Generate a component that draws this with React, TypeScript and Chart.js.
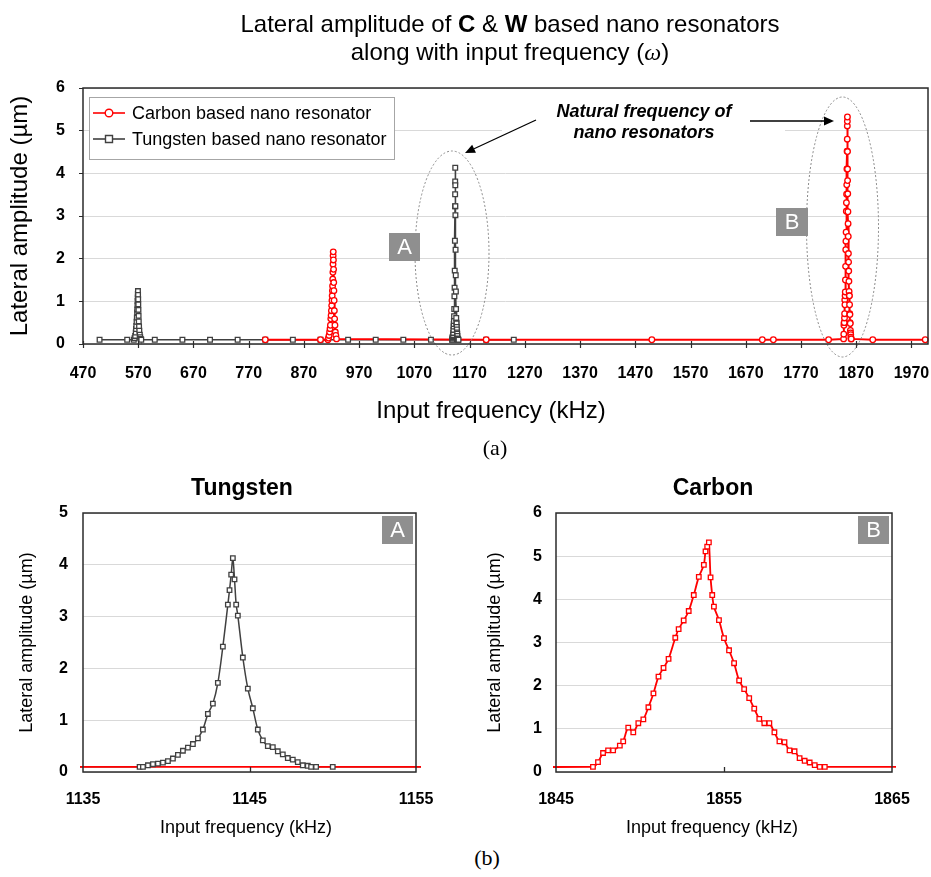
import React, { useEffect, useRef } from "react";
import { Chart, registerables } from "chart.js";

Chart.register(...registerables);

const FONT = "'Liberation Sans', Arial, Helvetica, sans-serif";
const SERIF = "'Liberation Serif', 'Times New Roman', serif";
const RED = "#ff0000";
const DARK = "#404040";
const GRID = "#d9d9d9";
const FRAME = "#2b2b2b";
const BOXGRAY = "#8f8f8f";

// ---------- axis ticks ----------
const topXTicks = [470, 570, 670, 770, 870, 970, 1070, 1170, 1270, 1370, 1470, 1570, 1670, 1770, 1870, 1970];
const topYTicks = [0, 1, 2, 3, 4, 5, 6];
const tungstenXTicks = [1135, 1145, 1155];
const tungstenYTicks = [0, 1, 2, 3, 4, 5];
const carbonXTicks = [1845, 1855, 1865];
const carbonYTicks = [0, 1, 2, 3, 4, 5, 6];

// ---------- Tungsten (W) series ----------
const tungstenBaseFreq = [500, 550, 600, 650, 700, 750, 800, 850, 900, 950, 1000, 1050, 1100, 1200, 1250];
const tungstenBaseAmp = [0.1, 0.1, 0.1, 0.1, 0.1, 0.1, 0.1, 0.1, 0.1, 0.1, 0.1, 0.1, 0.1, 0.1, 0.1];

const tungstenPeak1Freq = [562.0, 563.5, 564.5, 565.5, 566.0, 566.5, 567.0, 567.5, 568.0, 568.3, 568.6, 568.9, 569.1, 569.3, 569.5, 569.7, 569.9, 570.1, 570.4, 570.7, 571.0, 571.5, 572.0, 572.8, 573.6, 574.5, 575.5];
const tungstenPeak1Amp = [0.10, 0.14, 0.19, 0.27, 0.35, 0.42, 0.52, 0.62, 0.74, 0.81, 0.91, 1.01, 1.09, 1.17, 1.24, 1.15, 1.05, 0.93, 0.80, 0.66, 0.53, 0.41, 0.31, 0.22, 0.16, 0.12, 0.10];

const tungstenPeakAFreq = [1138.4, 1138.6, 1138.9, 1139.2, 1139.5, 1139.8, 1140.1, 1140.4, 1140.7, 1141.0, 1141.3, 1141.6, 1141.9, 1142.2, 1142.5, 1142.8, 1143.1, 1143.4, 1143.7, 1143.8, 1143.9, 1144.0, 1144.1, 1144.2, 1144.3, 1144.6, 1144.9, 1145.2, 1145.5, 1145.8, 1146.1, 1146.4, 1146.7, 1147.0, 1147.3, 1147.6, 1147.9, 1148.2, 1148.5, 1148.7, 1149.0, 1150.0];
const tungstenPeakAAmp = [0.10, 0.10, 0.13, 0.15, 0.16, 0.18, 0.21, 0.26, 0.33, 0.41, 0.47, 0.54, 0.65, 0.82, 1.12, 1.32, 1.72, 2.42, 3.23, 3.51, 3.81, 4.13, 3.72, 3.23, 3.02, 2.21, 1.61, 1.23, 0.82, 0.61, 0.50, 0.48, 0.40, 0.34, 0.27, 0.24, 0.19, 0.13, 0.12, 0.10, 0.10, 0.10];

// ---------- Carbon (C) series ----------
const carbonBaseFreq = [800, 900, 1200, 1500, 1700, 1720, 1820, 1900, 1995];
const carbonBaseAmp = [0.1, 0.1, 0.1, 0.1, 0.1, 0.1, 0.1, 0.1, 0.1];

const carbonPeak1Freq = [913.5, 914.5, 915.5, 916.5, 917.3, 918.0, 918.7, 919.3, 919.8, 920.3, 920.8, 921.2, 921.6, 921.9, 922.2, 922.5, 922.7, 922.9, 923.1, 923.4, 923.7, 924.0, 924.3, 924.7, 925.1, 925.6, 926.2, 926.9, 927.8, 929.0];
const carbonPeak1Amp = [0.10, 0.14, 0.20, 0.28, 0.36, 0.44, 0.59, 0.67, 0.78, 0.90, 1.02, 1.13, 1.25, 1.36, 1.52, 1.68, 1.87, 2.07, 2.16, 1.97, 1.75, 1.44, 1.25, 1.02, 0.78, 0.59, 0.44, 0.28, 0.20, 0.12];

const carbonPeakBFreq = [1847.2, 1847.5, 1847.8, 1848.1, 1848.4, 1848.8, 1849.0, 1849.3, 1849.6, 1849.9, 1850.2, 1850.5, 1850.8, 1851.1, 1851.4, 1851.7, 1852.1, 1852.3, 1852.6, 1852.9, 1853.2, 1853.5, 1853.8, 1853.9, 1854.0, 1854.1, 1854.2, 1854.3, 1854.4, 1854.7, 1855.0, 1855.3, 1855.6, 1855.9, 1856.2, 1856.5, 1856.8, 1857.1, 1857.4, 1857.7, 1858.0, 1858.3, 1858.6, 1858.9, 1859.2, 1859.5, 1859.8, 1860.1, 1860.4, 1860.7, 1861.0];
const carbonPeakBAmp = [0.12, 0.23, 0.44, 0.50, 0.50, 0.61, 0.71, 1.03, 0.92, 1.13, 1.22, 1.50, 1.82, 2.21, 2.41, 2.62, 3.11, 3.31, 3.51, 3.73, 4.10, 4.52, 4.80, 5.11, 5.22, 5.32, 4.51, 4.10, 3.83, 3.52, 3.10, 2.82, 2.52, 2.12, 1.92, 1.71, 1.47, 1.23, 1.13, 1.13, 0.92, 0.71, 0.69, 0.50, 0.48, 0.32, 0.26, 0.22, 0.16, 0.12, 0.12];

const CARBON_LABEL = "Carbon based nano resonator";
const TUNGSTEN_LABEL = "Tungsten based nano resonator";

type Pt = { x: number; y: number };

function combine(parts: [number[], number[]][]): Pt[] {
  const pts: Pt[] = [];
  parts.forEach(([xs, ys]) => xs.forEach((x, i) => pts.push({ x, y: ys[i] })));
  pts.sort((a, b) => a.x - b.x);
  return pts;
}

const tungstenData = () =>
  combine([
    [tungstenBaseFreq, tungstenBaseAmp],
    [tungstenPeak1Freq, tungstenPeak1Amp],
    [tungstenPeakAFreq, tungstenPeakAAmp],
  ]);
const carbonData = () =>
  combine([
    [carbonBaseFreq, carbonBaseAmp],
    [carbonPeak1Freq, carbonPeak1Amp],
    [carbonPeakBFreq, carbonPeakBAmp],
  ]);

function makeDatasets(o: { tension: number; carbonStyle: string; carbonRadius: number; rectRadius: number; clip: any; redWidth: number; darkWidth: number }) {
  const w = tungstenData();
  const c = carbonData();
  return [
    { label: TUNGSTEN_LABEL, data: w, showLine: true, borderColor: DARK, borderWidth: o.darkWidth, pointRadius: 0, tension: o.tension, order: 4, clip: o.clip },
    { label: CARBON_LABEL, data: c, showLine: true, borderColor: RED, borderWidth: o.redWidth, pointRadius: 0, tension: o.tension, order: 3, clip: o.clip },
    { label: TUNGSTEN_LABEL + " markers", data: w, showLine: false, pointStyle: "rect", pointRadius: o.rectRadius, pointBorderColor: DARK, pointBackgroundColor: "#ffffff", pointBorderWidth: 1.3, order: 2, clip: o.clip },
    { label: CARBON_LABEL + " markers", data: c, showLine: false, pointStyle: o.carbonStyle, pointRadius: o.carbonRadius, pointBorderColor: RED, pointBackgroundColor: "#ffffff", pointBorderWidth: 1.3, order: 1, clip: o.clip },
  ];
}

function arrow(ctx: CanvasRenderingContext2D, x1: number, y1: number, x2: number, y2: number) {
  const a = Math.atan2(y2 - y1, x2 - x1);
  const L = 10, W = 4.5;
  const bx = x2 - L * Math.cos(a), by = y2 - L * Math.sin(a);
  ctx.beginPath();
  ctx.moveTo(x1, y1);
  ctx.lineTo(bx, by);
  ctx.stroke();
  ctx.beginPath();
  ctx.moveTo(x2, y2);
  ctx.lineTo(bx + W * Math.sin(a), by - W * Math.cos(a));
  ctx.lineTo(bx - W * Math.sin(a), by + W * Math.cos(a));
  ctx.closePath();
  ctx.fill();
}

function letterBox(ctx: CanvasRenderingContext2D, x: number, y: number, w: number, h: number, t: string) {
  ctx.fillStyle = BOXGRAY;
  ctx.fillRect(x, y, w, h);
  ctx.fillStyle = "#ffffff";
  ctx.font = `22px ${FONT}`;
  ctx.textAlign = "center";
  ctx.textBaseline = "middle";
  ctx.fillText(t, x + w / 2, y + h / 2 + 1);
}

function frame(ctx: CanvasRenderingContext2D, a: any) {
  ctx.strokeStyle = FRAME;
  ctx.lineWidth = 1.5;
  ctx.setLineDash([]);
  ctx.strokeRect(a.left, a.top, a.right - a.left, a.bottom - a.top);
}

const topDecor = {
  id: "topDecor",
  afterDatasetsDraw(chart: any) {
    const { ctx, chartArea: a, scales } = chart;
    ctx.save();
    // x tick marks crossing the axis
    ctx.strokeStyle = FRAME;
    ctx.lineWidth = 1.2;
    topXTicks.forEach((v) => {
      const px = Math.round(scales.x.getPixelForValue(v)) + 0.5;
      ctx.beginPath();
      ctx.moveTo(px, a.bottom - 3);
      ctx.lineTo(px, a.bottom + 4);
      ctx.stroke();
    });
    // white area behind annotation text
    ctx.fillStyle = "#ffffff";
    ctx.fillRect(502, 96, 283, 48);
    // dotted ellipses
    ctx.strokeStyle = "#8a8a8a";
    ctx.lineWidth = 1;
    ctx.setLineDash([2, 2]);
    ctx.beginPath();
    ctx.ellipse(452, 253, 37, 102, 0, 0, Math.PI * 2);
    ctx.stroke();
    ctx.beginPath();
    ctx.ellipse(842.5, 227, 36, 130, 0, 0, Math.PI * 2);
    ctx.stroke();
    ctx.setLineDash([]);
    // labels A, B
    letterBox(ctx, 389, 233, 31, 28, "A");
    letterBox(ctx, 776, 208, 32, 28, "B");
    // annotation text
    ctx.fillStyle = "#000000";
    ctx.font = `italic bold 18px ${FONT}`;
    ctx.textAlign = "center";
    ctx.textBaseline = "middle";
    ctx.fillText("Natural frequency of", 644, 112);
    ctx.fillText("nano resonators", 644, 133);
    // arrows
    ctx.strokeStyle = "#000000";
    ctx.fillStyle = "#000000";
    ctx.lineWidth = 1.3;
    arrow(ctx, 536, 120, 465, 153);
    arrow(ctx, 750, 121, 834, 121);
    // legend
    const lx = a.left + 6, ly = a.top + 9, lw = 305, lh = 62;
    ctx.fillStyle = "#ffffff";
    ctx.fillRect(lx, ly, lw, lh);
    ctx.strokeStyle = "#a6a6a6";
    ctx.lineWidth = 1;
    ctx.strokeRect(lx + 0.5, ly + 0.5, lw, lh);
    const rows = [
      { label: CARBON_LABEL, color: RED, y: ly + 16, shape: "circle" },
      { label: TUNGSTEN_LABEL, color: DARK, y: ly + 42, shape: "rect" },
    ];
    rows.forEach((r) => {
      ctx.strokeStyle = r.color;
      ctx.lineWidth = 1.6;
      ctx.beginPath();
      ctx.moveTo(lx + 4, r.y);
      ctx.lineTo(lx + 36, r.y);
      ctx.stroke();
      ctx.fillStyle = "#ffffff";
      ctx.lineWidth = 1.4;
      ctx.beginPath();
      if (r.shape === "circle") ctx.arc(lx + 20, r.y, 3.8, 0, Math.PI * 2);
      else ctx.rect(lx + 16.5, r.y - 3.5, 7, 7);
      ctx.fill();
      ctx.stroke();
      ctx.fillStyle = "#000000";
      ctx.font = `18px ${FONT}`;
      ctx.textAlign = "left";
      ctx.textBaseline = "middle";
      ctx.fillText(r.label, lx + 43, r.y + 1);
    });
    frame(ctx, a);
    ctx.restore();
  },
};

function bottomDecor(id: string, letter: string, midTick: number) {
  return {
    id,
    afterDatasetsDraw(chart: any) {
      const { ctx, chartArea: a, scales } = chart;
      ctx.save();
      ctx.strokeStyle = FRAME;
      ctx.lineWidth = 1.3;
      const px = Math.round(scales.x.getPixelForValue(midTick)) + 0.5;
      ctx.beginPath();
      ctx.moveTo(px, a.bottom);
      ctx.lineTo(px, a.bottom - 5);
      ctx.stroke();
      letterBox(ctx, a.right - 34, a.top + 3, 31, 28, letter);
      frame(ctx, a);
      ctx.restore();
    },
  };
}

interface Spec {
  datasets: any[];
  padding: any;
  xMin: number;
  xMax: number;
  xTicks: number[];
  yMax: number;
  yTicks: number[];
  yWidth: number;
  xHeight: number;
  xLabelPad: number;
  yLabelPad: number;
  yTickLen: number;
  yTitle: string;
  yTitleSize: number;
  yTitlePad: number;
  tickSize: number;
  plugin: any;
}

function buildChart(canvas: HTMLCanvasElement, s: Spec) {
  const tickFont = { family: FONT, size: s.tickSize, weight: "bold" as const };
  return new Chart(canvas, {
    type: "scatter",
    data: { datasets: s.datasets },
    options: {
      responsive: false,
      animation: false,
      devicePixelRatio: 1,
      layout: { autoPadding: false, padding: s.padding } as any,
      plugins: {
        legend: { display: false },
        tooltip: { enabled: false },
        title: { display: false },
      },
      scales: {
        x: {
          type: "linear",
          min: s.xMin,
          max: s.xMax,
          afterBuildTicks: (sc: any) => {
            sc.ticks = s.xTicks.map((v) => ({ value: v }));
          },
          afterFit: (sc: any) => {
            sc.height = s.xHeight;
            sc.paddingLeft = 0;
            sc.paddingRight = 0;
          },
          grid: { display: true, drawOnChartArea: false, drawTicks: false },
          border: { display: false },
          ticks: {
            font: tickFont,
            color: "#000000",
            padding: s.xLabelPad,
            maxRotation: 0,
            autoSkip: false,
            callback: (v: any) => String(v),
          },
        },
        y: {
          type: "linear",
          min: 0,
          max: s.yMax,
          afterBuildTicks: (sc: any) => {
            sc.ticks = s.yTicks.map((v) => ({ value: v }));
          },
          afterFit: (sc: any) => {
            sc.width = s.yWidth;
            sc.paddingTop = 0;
            sc.paddingBottom = 0;
          },
          grid: {
            color: GRID,
            lineWidth: 1,
            tickColor: FRAME,
            drawTicks: s.yTickLen > 0,
            tickLength: s.yTickLen,
          },
          border: { display: false },
          ticks: {
            font: tickFont,
            color: "#000000",
            padding: s.yLabelPad,
            autoSkip: false,
            callback: (v: any) => String(v),
          },
          title: {
            display: true,
            text: s.yTitle,
            color: "#000000",
            font: { family: FONT, size: s.yTitleSize, weight: "normal" as const },
            padding: { top: s.yTitlePad, bottom: 0 },
          },
        },
      },
    } as any,
    plugins: [s.plugin],
  });
}

const Txt: React.FC<{ x: number; y: number; size: number; bold?: boolean; family?: string; children: React.ReactNode }> = ({ x, y, size, bold, family, children }) => (
  <div
    style={{
      position: "absolute",
      left: x,
      top: y,
      transform: "translate(-50%, -50%)",
      fontSize: size,
      fontWeight: bold ? "bold" : "normal",
      fontFamily: family || FONT,
      lineHeight: 1.15,
      whiteSpace: "nowrap",
      color: "#000",
    }}
  >
    {children}
  </div>
);

export default function App() {
  const topRef = useRef<HTMLCanvasElement>(null);
  const wRef = useRef<HTMLCanvasElement>(null);
  const cRef = useRef<HTMLCanvasElement>(null);

  useEffect(() => {
    const charts: Chart[] = [];
    if (topRef.current) {
      charts.push(
        buildChart(topRef.current, {
          datasets: makeDatasets({ tension: 0, carbonStyle: "circle", carbonRadius: 2.8, rectRadius: 3.3, clip: 6, redWidth: 2, darkWidth: 1.6 }),
          padding: { top: 88, right: 3, left: 0, bottom: 0 },
          xMin: 470,
          xMax: 2000,
          xTicks: topXTicks,
          yMax: 6,
          yTicks: topYTicks,
          yWidth: 83,
          xHeight: 86,
          xLabelPad: 20.4,
          yLabelPad: 14,
          yTickLen: 4,
          yTitle: "Lateral amplitude (\u00b5m)",
          yTitleSize: 24,
          yTitlePad: 5.6,
          tickSize: 16,
          plugin: topDecor,
        })
      );
    }
    if (wRef.current) {
      charts.push(
        buildChart(wRef.current, {
          datasets: makeDatasets({ tension: 0.3, carbonStyle: "rect", carbonRadius: 3.2, rectRadius: 3.2, clip: { left: 3, right: 5, top: 0, bottom: 0 }, redWidth: 1.8, darkWidth: 1.5 }),
          padding: { top: 53, right: 49, left: 0, bottom: 0 },
          xMin: 1135,
          xMax: 1155,
          xTicks: tungstenXTicks,
          yMax: 5,
          yTicks: tungstenYTicks,
          yWidth: 83,
          xHeight: 68,
          xLabelPad: 18.4,
          yLabelPad: 15,
          yTickLen: 0,
          yTitle: "Lateral amplitude (\u00b5m)",
          yTitleSize: 18,
          yTitlePad: 16,
          tickSize: 16,
          plugin: bottomDecor("wDecor", "A", 1145),
        })
      );
    }
    if (cRef.current) {
      charts.push(
        buildChart(cRef.current, {
          datasets: makeDatasets({ tension: 0.3, carbonStyle: "rect", carbonRadius: 3.2, rectRadius: 3.2, clip: { left: 3, right: 4, top: 0, bottom: 0 }, redWidth: 1.8, darkWidth: 1.5 }),
          padding: { top: 53, right: 39, left: 0, bottom: 0 },
          xMin: 1845,
          xMax: 1865,
          xTicks: carbonXTicks,
          yMax: 6,
          yTicks: carbonYTicks,
          yWidth: 91,
          xHeight: 68,
          xLabelPad: 18.4,
          yLabelPad: 14,
          yTickLen: 0,
          yTitle: "Lateral amplitude (\u00b5m)",
          yTitleSize: 18,
          yTitlePad: 19,
          tickSize: 16,
          plugin: bottomDecor("cDecor", "B", 1855),
        })
      );
    }
    return () => charts.forEach((c) => c.destroy());
  }, []);

  return (
    <div style={{ position: "absolute", left: 0, top: 0, width: 931, height: 877, background: "#ffffff", overflow: "hidden", fontFamily: FONT }}>
      <canvas ref={topRef} width={931} height={430} style={{ position: "absolute", left: 0, top: 0, width: 931, height: 430 }} />
      <canvas ref={wRef} width={465} height={380} style={{ position: "absolute", left: 0, top: 460, width: 465, height: 380 }} />
      <canvas ref={cRef} width={466} height={380} style={{ position: "absolute", left: 465, top: 460, width: 466, height: 380 }} />

      <Txt x={510} y={24} size={24}>
        Lateral amplitude of <b>C</b> &amp; <b>W</b> based nano resonators
      </Txt>
      <Txt x={510} y={52} size={24}>
        along with input frequency (<i style={{ fontFamily: SERIF }}>ω</i>)
      </Txt>
      <Txt x={491} y={410} size={24}>Input frequency (kHz)</Txt>
      <Txt x={495} y={448} size={22} family={SERIF}>(a)</Txt>

      <Txt x={242} y={487} size={23} bold>Tungsten</Txt>
      <Txt x={713} y={487} size={23} bold>Carbon</Txt>
      <Txt x={246} y={827} size={18}>Input frequency (kHz)</Txt>
      <Txt x={712} y={827} size={18}>Input frequency (kHz)</Txt>
      <Txt x={487} y={858} size={22} family={SERIF}>(b)</Txt>
    </div>
  );
}
